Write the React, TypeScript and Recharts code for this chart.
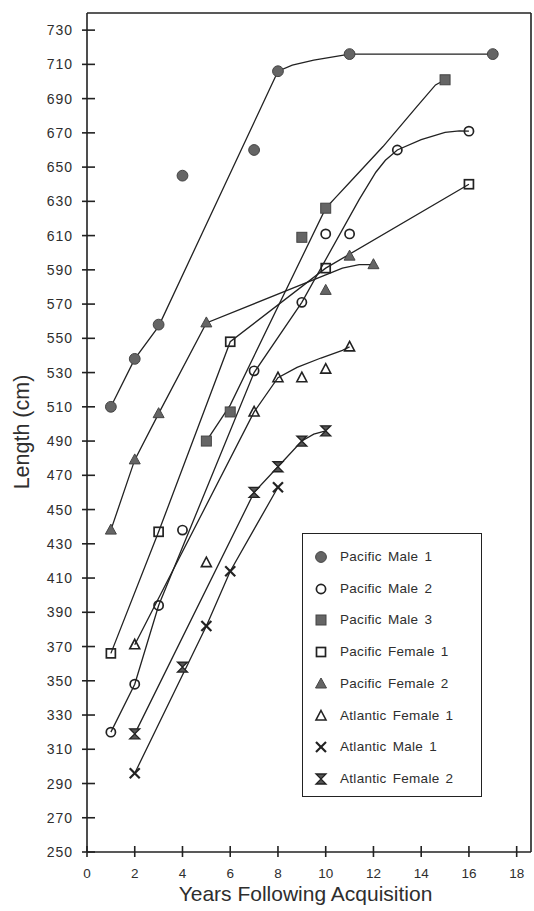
import React from 'react';
import { ComposedChart, Line, Scatter, XAxis, YAxis, ReferenceLine, Legend } from 'recharts';

// ---------- data ----------
const xTicks = [0, 2, 4, 6, 8, 10, 12, 14, 16, 18];
const yTicks = [250, 270, 290, 310, 330, 350, 370, 390, 410, 430, 450, 470, 490, 510, 530, 550, 570, 590, 610, 630, 650, 670, 690, 710, 730];

const pm1Years = [1, 2, 3, 4, 7, 8, 11, 17];
const pm1Lengths = [510, 538, 558, 645, 660, 706, 716, 716];
const pm1FitYears = [1, 2, 3, 8, 8.6, 9.5, 11, 17];
const pm1FitLengths = [510, 538, 557, 706, 709.5, 712.5, 716, 716];

const pm2Years = [1, 2, 3, 4, 7, 9, 10, 11, 13, 16];
const pm2Lengths = [320, 348, 394, 438, 531, 571, 611, 611, 660, 671];
const pm2FitYears = [1, 2, 3, 7, 9, 11.4, 12.1, 12.5, 13, 14, 15, 15.6, 16];
const pm2FitLengths = [320, 348, 394, 530, 571, 631, 647, 654, 660, 666, 670.3, 671.2, 671];

const pm3Years = [5, 6, 9, 10, 15];
const pm3Lengths = [490, 507, 609, 626, 701];
const pm3FitYears = [5, 6, 10, 10.4, 11, 12.4, 13.8, 14.6, 15];
const pm3FitLengths = [490, 511, 626, 632, 641, 662, 685, 698, 701];

const pf1Years = [1, 3, 6, 10, 16];
const pf1Lengths = [366, 437, 548, 591, 640];
const pf1FitYears = [1, 3, 6, 10, 16];
const pf1FitLengths = [366, 437, 548, 591, 640];

const pf2Years = [1, 2, 3, 5, 10, 11, 12];
const pf2Lengths = [438, 479, 506, 559, 578, 598, 593];
const pf2FitYears = [1, 2, 3, 5, 10, 10.7, 11.4, 12];
const pf2FitLengths = [438, 479, 506, 559, 587, 591, 593, 593];

const af1Years = [2, 5, 7, 8, 9, 10, 11];
const af1Lengths = [371, 419, 507, 527, 527, 532, 545];
const af1FitYears = [2, 7, 8, 8.8, 9.8, 10.7, 11];
const af1FitLengths = [371, 507, 527, 533, 538.5, 543, 545];

const am1Years = [2, 5, 6, 8];
const am1Lengths = [296, 382, 414, 463];
const am1FitYears = [2, 5, 6, 8];
const am1FitLengths = [296, 382, 414, 463];

const af2Years = [2, 4, 7, 8, 9, 10];
const af2Lengths = [319, 358, 460, 475, 490, 496];
const af2FitYears = [2, 7, 8, 9, 9.5, 10];
const af2FitLengths = [319, 460, 475, 490, 494, 496];

// ---------- styling ----------
const FONT = "'Liberation Sans', Arial, Helvetica, sans-serif";
const INK = '#222';
const TEXT = '#2e2e2e';
const GRAY = '#656565';

const zip = (xs: number[], ys: number[]) => xs.map((x, i) => ({ x, y: ys[i] }));

type MarkerKind = 'filledCircle' | 'openCircle' | 'filledSquare' | 'openSquare' | 'filledTriangle' | 'openTriangle' | 'cross' | 'hourglass';

const Marker = ({ kind, cx, cy }: { kind: MarkerKind; cx: number; cy: number }) => {
  switch (kind) {
    case 'filledCircle':
      return <circle cx={cx} cy={cy} r={5.4} fill={GRAY} stroke="#444" strokeWidth={1} />;
    case 'openCircle':
      return <circle cx={cx} cy={cy} r={4.6} fill="none" stroke={INK} strokeWidth={1.7} />;
    case 'filledSquare':
      return <rect x={cx - 5} y={cy - 5} width={10} height={10} fill={GRAY} stroke="#444" strokeWidth={1} />;
    case 'openSquare':
      return <rect x={cx - 4.5} y={cy - 4.5} width={9} height={9} fill="none" stroke={INK} strokeWidth={1.7} />;
    case 'filledTriangle':
      return <polygon points={`${cx},${cy - 6} ${cx + 5.5},${cy + 4} ${cx - 5.5},${cy + 4}`} fill={GRAY} stroke="#444" strokeWidth={1} />;
    case 'openTriangle':
      return <polygon points={`${cx},${cy - 5.5} ${cx + 5},${cy + 4} ${cx - 5},${cy + 4}`} fill="none" stroke={INK} strokeWidth={1.6} />;
    case 'cross':
      return (
        <g stroke={INK} strokeWidth={2.2}>
          <line x1={cx - 5} y1={cy - 5} x2={cx + 5} y2={cy + 5} />
          <line x1={cx - 5} y1={cy + 5} x2={cx + 5} y2={cy - 5} />
        </g>
      );
    case 'hourglass':
    default:
      return (
        <polygon
          points={`${cx - 5},${cy - 5} ${cx + 5},${cy - 5} ${cx - 5},${cy + 5} ${cx + 5},${cy + 5}`}
          fill="#555"
          stroke={INK}
          strokeWidth={1.3}
        />
      );
  }
};

const series = [
  { name: 'Pacific Male 1', kind: 'filledCircle' as MarkerKind, pts: zip(pm1Years, pm1Lengths), fit: zip(pm1FitYears, pm1FitLengths) },
  { name: 'Pacific Male 2', kind: 'openCircle' as MarkerKind, pts: zip(pm2Years, pm2Lengths), fit: zip(pm2FitYears, pm2FitLengths) },
  { name: 'Pacific Male 3', kind: 'filledSquare' as MarkerKind, pts: zip(pm3Years, pm3Lengths), fit: zip(pm3FitYears, pm3FitLengths) },
  { name: 'Pacific Female 1', kind: 'openSquare' as MarkerKind, pts: zip(pf1Years, pf1Lengths), fit: zip(pf1FitYears, pf1FitLengths) },
  { name: 'Pacific Female 2', kind: 'filledTriangle' as MarkerKind, pts: zip(pf2Years, pf2Lengths), fit: zip(pf2FitYears, pf2FitLengths) },
  { name: 'Atlantic Female 1', kind: 'openTriangle' as MarkerKind, pts: zip(af1Years, af1Lengths), fit: zip(af1FitYears, af1FitLengths) },
  { name: 'Atlantic Male 1', kind: 'cross' as MarkerKind, pts: zip(am1Years, am1Lengths), fit: zip(am1FitYears, am1FitLengths) },
  { name: 'Atlantic Female 2', kind: 'hourglass' as MarkerKind, pts: zip(af2Years, af2Lengths), fit: zip(af2FitYears, af2FitLengths) },
];

const XTick = (props: any) => {
  const { x, y, payload } = props;
  return (
    <g>
      <line x1={x} x2={x} y1={y - 6} y2={y + 5} stroke={INK} strokeWidth={1.6} />
      <text x={x} y={y + 26} textAnchor="middle" fill={TEXT} fontFamily={FONT} fontSize={13.5}>
        {payload.value}
      </text>
    </g>
  );
};

const YTick = (props: any) => {
  const { x, y, payload } = props;
  return (
    <g>
      <line x1={x - 5} x2={x + 8} y1={y} y2={y} stroke={INK} strokeWidth={1.6} />
      <text x={x - 14} y={y + 5} textAnchor="end" fill={TEXT} fontFamily={FONT} fontSize={14} letterSpacing={1}>
        {payload.value}
      </text>
    </g>
  );
};

const LegendBox = () => (
  <div
    style={{
      position: 'relative',
      width: 180,
      height: 264,
      boxSizing: 'border-box',
      border: `1.6px solid ${INK}`,
      background: '#fff',
      fontFamily: FONT,
      fontSize: 13.5,
      letterSpacing: 0.3,
      wordSpacing: 2,
      color: TEXT,
    }}
  >
    {series.map((s, i) => (
      <div key={s.name} style={{ position: 'absolute', left: 0, top: 23 + i * 31.7 - 10, height: 20, width: '100%' }}>
        <svg width={16} height={16} style={{ position: 'absolute', left: 10, top: 2 }}>
          <Marker kind={s.kind} cx={8} cy={8} />
        </svg>
        <span style={{ position: 'absolute', left: 37, top: 2, lineHeight: '16px', whiteSpace: 'nowrap' }}>{s.name}</span>
      </div>
    ))}
  </div>
);

export default function App() {
  return (
    <div style={{ position: 'absolute', left: 0, top: 0, width: 534, height: 911, background: '#fff' }}>
      <ComposedChart width={534} height={911} margin={{ top: 13, right: 3, bottom: 29, left: 0 }}>
        <XAxis
          dataKey="x"
          type="number"
          domain={[0, 18.6]}
          ticks={xTicks}
          interval={0}
          allowDataOverflow
          height={30}
          tickSize={0}
          tickMargin={0}
          tickLine={false}
          axisLine={{ stroke: INK, strokeWidth: 1.6 }}
          tick={<XTick />}
          label={{
            value: 'Years Following Acquisition',
            content: () => (
              <text x={305.5} y={901} textAnchor="middle" fill={TEXT} fontFamily={FONT} fontSize={21}>
                Years Following Acquisition
              </text>
            ),
          }}
        />
        <YAxis
          dataKey="y"
          type="number"
          domain={[250, 740]}
          ticks={yTicks}
          interval={0}
          allowDataOverflow
          width={87}
          tickSize={0}
          tickMargin={0}
          tickLine={false}
          axisLine={{ stroke: INK, strokeWidth: 1.6 }}
          tick={<YTick />}
          label={{
            value: 'Length (cm)',
            content: () => (
              <text x={29} y={432} transform="rotate(-90, 29, 432)" textAnchor="middle" fill={TEXT} fontFamily={FONT} fontSize={21.5}>
                Length (cm)
              </text>
            ),
          }}
        />
        <ReferenceLine y={740} stroke={INK} strokeWidth={1.6} ifOverflow="visible" />
        <ReferenceLine x={18.6} stroke={INK} strokeWidth={1.6} ifOverflow="visible" />
        {series.map((s) => (
          <Line
            key={`fit-${s.name}`}
            data={s.fit}
            dataKey="y"
            type="linear"
            stroke={INK}
            strokeWidth={1.3}
            dot={false}
            activeDot={false}
            legendType="none"
            isAnimationActive={false}
          />
        ))}
        {series.map((s) => (
          <Scatter
            key={`pts-${s.name}`}
            name={s.name}
            data={s.pts}
            dataKey="y"
            isAnimationActive={false}
            shape={(p: any) => <Marker kind={s.kind} cx={p.cx} cy={p.cy} />}
          />
        ))}
        <Legend
          layout="vertical"
          verticalAlign="middle"
          align="center"
          content={() => <LegendBox />}
          wrapperStyle={{ position: 'absolute', left: 302, top: 533, width: 180, height: 264 }}
        />
      </ComposedChart>
    </div>
  );
}
